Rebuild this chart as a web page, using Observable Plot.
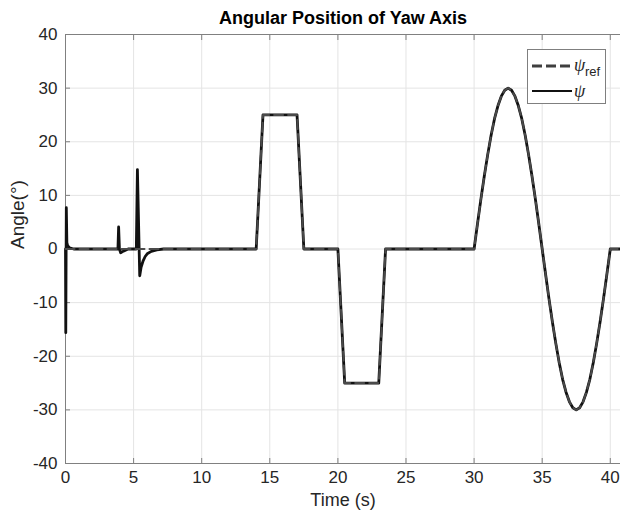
<!DOCTYPE html>
<html>
<head>
<meta charset="utf-8">
<script src="https://cdn.jsdelivr.net/npm/d3@7"></script>
<script src="https://cdn.jsdelivr.net/npm/@observablehq/plot@0.6"></script>
<style>
  html, body { margin: 0; padding: 0; background: #fff; }
  #wrap { position: relative; width: 620px; height: 519px; overflow: hidden; }
  #legend {
    position: absolute; left: 527px; top: 49px; width: 79px; height: 55px;
    background: #fff; border: 1px solid #7f7f7f; box-sizing: border-box;
  }
</style>
</head>
<body>
<div id="wrap">
  <div id="chart"></div>
  <div id="legend">
    <svg width="79" height="55" style="display:block">
      <line x1="4" x2="44" y1="16" y2="16" stroke="#3f3f3f" stroke-width="3" stroke-dasharray="10,4"></line>
      <text x="46" y="21" font-family="Liberation Serif, DejaVu Serif, serif" font-style="italic" font-size="18" fill="#262626">ψ</text>
      <text x="57" y="26" font-family="Liberation Sans, Arial, sans-serif" font-size="13" fill="#262626">ref</text>
      <line x1="4" x2="44" y1="41" y2="41" stroke="#111" stroke-width="2.2"></line>
      <text x="46" y="47" font-family="Liberation Serif, DejaVu Serif, serif" font-style="italic" font-size="18" fill="#262626">ψ</text>
    </svg>
  </div>
</div>
<script>
// Reference yaw angle (degrees) vs. time (s)
const refTime = [0, 14, 14.5, 17, 17.5, 20, 20.5, 23, 23.5, 30,
  30.25, 30.5, 30.75, 31, 31.25, 31.5, 31.75, 32, 32.25, 32.5,
  32.75, 33, 33.25, 33.5, 33.75, 34, 34.25, 34.5, 34.75, 35,
  35.25, 35.5, 35.75, 36, 36.25, 36.5, 36.75, 37, 37.25, 37.5,
  37.75, 38, 38.25, 38.5, 38.75, 39, 39.25, 39.5, 39.75, 40, 40.75];
const refAngle = [0, 0, 25, 25, 0, 0, -25, -25, 0, 0,
  4.7, 9.3, 13.6, 17.6, 21.2, 24.3, 26.7, 28.5, 29.6, 30,
  29.6, 28.5, 26.7, 24.3, 21.2, 17.6, 13.6, 9.3, 4.7, 0,
  -4.7, -9.3, -13.6, -17.6, -21.2, -24.3, -26.7, -28.5, -29.6, -30,
  -29.6, -28.5, -26.7, -24.3, -21.2, -17.6, -13.6, -9.3, -4.7, 0, 0];

// Measured yaw angle (degrees) vs. time (s)
const psiTime = [0, 0.02, 0.06, 0.1, 0.16, 0.3, 0.6,
  3.85, 3.9, 3.96, 4.05, 4.25, 4.6,
  5.2, 5.28, 5.45, 5.55, 5.7, 5.85, 6.0, 6.3, 6.7, 7.2,
  14, 14.5, 17, 17.5, 20, 20.5, 23, 23.5, 30,
  30.25, 30.5, 30.75, 31, 31.25, 31.5, 31.75, 32, 32.25, 32.5,
  32.75, 33, 33.25, 33.5, 33.75, 34, 34.25, 34.5, 34.75, 35,
  35.25, 35.5, 35.75, 36, 36.25, 36.5, 36.75, 37, 37.25, 37.5,
  37.75, 38, 38.25, 38.5, 38.75, 39, 39.25, 39.5, 39.75, 40, 40.75];
const psiAngle = [0, -15.6, 7.7, 1.2, 0.6, 0.2, 0,
  0, 4.1, 0, -0.7, -0.4, 0,
  0, 14.8, -5.0, -3.4, -2.2, -1.4, -0.9, -0.45, -0.15, 0,
  0, 25, 25, 0, 0, -25, -25, 0, 0,
  4.7, 9.3, 13.6, 17.6, 21.2, 24.3, 26.7, 28.5, 29.6, 30,
  29.6, 28.5, 26.7, 24.3, 21.2, 17.6, 13.6, 9.3, 4.7, 0,
  -4.7, -9.3, -13.6, -17.6, -21.2, -24.3, -26.7, -28.5, -29.6, -30,
  -29.6, -28.5, -26.7, -24.3, -21.2, -17.6, -13.6, -9.3, -4.7, 0, 0];

const xTicks = [0, 5, 10, 15, 20, 25, 30, 35, 40];
const yTicks = [-40, -30, -20, -10, 0, 10, 20, 30, 40];

const refRows = refTime.map((t, i) => ({t, v: refAngle[i]}));
const psiRows = psiTime.map((t, i) => ({t, v: psiAngle[i]}));

const axisColor = "#808080";
const textColor = "#262626";
const plain = d => String(d);

const chart = Plot.plot({
  width: 620,
  height: 519,
  marginTop: 34,
  marginBottom: 56,
  marginLeft: 65,
  marginRight: 0,
  x: {domain: [0, 40.75]},
  y: {domain: [-40, 40]},
  style: {fontFamily: "Liberation Sans, Arial, sans-serif", fontSize: "17px", color: textColor, background: "#fff"},
  marks: [
    Plot.gridX(xTicks, {stroke: "#e4e4e4", strokeOpacity: 1}),
    Plot.gridY(yTicks, {stroke: "#e4e4e4", strokeOpacity: 1}),
    Plot.frame({anchor: "top", stroke: axisColor}),
    Plot.frame({anchor: "bottom", stroke: axisColor}),
    Plot.frame({anchor: "left", stroke: axisColor}),
    Plot.axisX(xTicks, {anchor: "bottom", tickSize: 0, tickPadding: 7, label: null, fill: textColor, tickFormat: plain}),
    Plot.axisX(xTicks, {anchor: "bottom", tickSize: -5, tickFormat: () => "", label: null, stroke: axisColor}),
    Plot.axisX(xTicks, {anchor: "top", tickSize: -5, tickFormat: () => "", label: null, stroke: axisColor}),
    Plot.axisY(yTicks, {anchor: "left", tickSize: 0, tickPadding: 8, label: null, fill: textColor, tickFormat: plain}),
    Plot.axisY(yTicks, {anchor: "left", tickSize: -5, tickFormat: () => "", label: null, stroke: axisColor}),
    Plot.line(psiRows, {x: "t", y: "v", stroke: "#111", strokeWidth: 2.8, strokeLinejoin: "round"}),
    Plot.line(refRows, {x: "t", y: "v", stroke: "#4a4a4a", strokeWidth: 2, strokeDasharray: "9,5"}),
    Plot.text(["Angular Position of Yaw Axis"], {frameAnchor: "top", dy: -23, fontWeight: "bold", fontSize: 18, fill: "#000"}),
    Plot.text(["Time (s)"], {frameAnchor: "bottom", dy: 42, fontSize: 18, fill: textColor}),
    Plot.text(["Angle(°)"], {frameAnchor: "left", dx: -48, rotate: -90, fontSize: 19, fill: textColor})
  ]
});
document.getElementById("chart").appendChild(chart);
</script>
</body>
</html>
